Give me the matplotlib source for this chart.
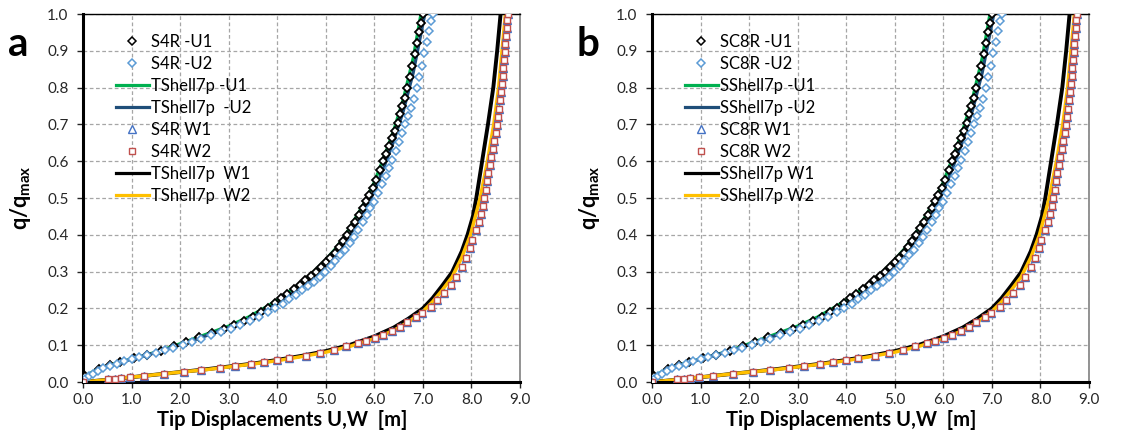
import matplotlib
matplotlib.use("Agg")
import matplotlib.pyplot as plt

plt.rcParams['font.family'] = ['Lato', 'DejaVu Sans']
plt.rcParams['mathtext.fontset'] = 'custom'
plt.rcParams['mathtext.rm'] = 'Lato'
plt.rcParams['mathtext.bf'] = 'Lato:bold'

# ---- data (x = tip displacement [m], q = q/qmax) ----
# S4R / SC8R -U1 (black diamonds)
u1_x = [0.00, 0.05, 0.32, 0.55, 0.77, 1.06, 1.32, 1.61, 1.87, 2.13, 2.39, 2.65, 2.90, 3.12,
        3.32, 3.50, 3.66, 3.81, 3.95, 4.08, 4.21, 4.34, 4.46, 4.58, 4.69, 4.80, 4.90, 5.00,
        5.09, 5.18, 5.27, 5.36, 5.44, 5.52, 5.60, 5.68, 5.76, 5.83, 5.90, 5.97, 6.04, 6.11,
        6.18, 6.24, 6.30, 6.36, 6.42, 6.48, 6.53, 6.58, 6.63, 6.68, 6.73, 6.78, 6.83, 6.88,
        6.93, 6.97, 7.00]
u1_q = [0.000, 0.015, 0.035, 0.045, 0.054, 0.065, 0.073, 0.084, 0.097, 0.110, 0.122, 0.133,
        0.145, 0.155, 0.166, 0.177, 0.189, 0.202, 0.215, 0.227, 0.239, 0.252, 0.264, 0.276,
        0.288, 0.300, 0.313, 0.326, 0.338, 0.351, 0.366, 0.383, 0.400, 0.418, 0.436, 0.455,
        0.474, 0.491, 0.508, 0.528, 0.550, 0.575, 0.600, 0.620, 0.641, 0.662, 0.683, 0.705,
        0.727, 0.749, 0.772, 0.800, 0.830, 0.860, 0.890, 0.920, 0.950, 0.975, 1.000]

# S4R / SC8R -U2 (light blue diamonds)
u2_x = [0.00, 0.05, 0.12, 0.20, 0.30, 0.42, 0.55, 0.70, 0.85, 1.00, 1.16, 1.32, 1.50, 1.68,
        1.86, 2.05, 2.24, 2.44, 2.64, 2.84, 3.04, 3.24, 3.44, 3.62, 3.80, 3.96, 4.11, 4.25,
        4.39, 4.52, 4.64, 4.76, 4.88, 4.99, 5.10, 5.20, 5.30, 5.40, 5.49, 5.58, 5.67, 5.76,
        5.84, 5.92, 6.00, 6.08, 6.16, 6.23, 6.30, 6.37, 6.44, 6.51, 6.58, 6.64, 6.70, 6.76,
        6.82, 6.88, 6.93, 6.98, 7.03, 7.08, 7.13, 7.17, 7.20]
u2_q = [0.000, 0.008, 0.016, 0.022, 0.029, 0.037, 0.043, 0.050, 0.056, 0.062, 0.068, 0.074,
        0.080, 0.086, 0.093, 0.101, 0.110, 0.118, 0.127, 0.136, 0.145, 0.155, 0.166, 0.177,
        0.189, 0.201, 0.213, 0.225, 0.237, 0.249, 0.261, 0.273, 0.286, 0.298, 0.314, 0.330,
        0.345, 0.360, 0.377, 0.395, 0.413, 0.435, 0.454, 0.472, 0.490, 0.514, 0.538, 0.560,
        0.582, 0.604, 0.628, 0.652, 0.677, 0.700, 0.722, 0.745, 0.770, 0.800, 0.830, 0.860,
        0.895, 0.925, 0.955, 0.980, 1.000]

# Shell7p -U1 (green line) and -U2 (dark blue line)
s_u1_x = [0.0, 0.1, 0.3, 0.6, 1.0, 1.5, 2.0, 2.5, 3.0, 3.4, 3.8, 4.1, 4.4, 4.7, 5.0, 5.2,
          5.4, 5.6, 5.8, 6.0, 6.2, 6.4, 6.6, 6.8, 6.96]
s_u1_q = [0.000, 0.020, 0.035, 0.048, 0.063, 0.081, 0.104, 0.128, 0.152, 0.176, 0.206, 0.232,
          0.260, 0.293, 0.332, 0.362, 0.398, 0.443, 0.488, 0.543, 0.612, 0.684, 0.770, 0.880, 1.000]
s_u2_x = [0.0, 0.1, 0.3, 0.6, 1.0, 1.5, 2.0, 2.5, 3.0, 3.4, 3.8, 4.1, 4.4, 4.7, 5.0, 5.2,
          5.4, 5.6, 5.8, 6.0, 6.2, 6.4, 6.6, 6.8, 7.04]
s_u2_q = [0.000, 0.018, 0.032, 0.046, 0.062, 0.080, 0.101, 0.124, 0.148, 0.170, 0.198, 0.222,
          0.250, 0.281, 0.318, 0.346, 0.380, 0.422, 0.466, 0.518, 0.585, 0.655, 0.738, 0.840, 1.000]

# S4R / SC8R W1 (triangles) and W2 (squares)
w_x = [0.00, 0.51, 0.65, 0.79, 0.97, 1.25, 1.67, 2.07, 2.44, 2.82, 3.14, 3.45, 3.73, 4.00,
       4.24, 4.59, 4.89, 5.17, 5.41, 5.66, 5.83, 6.01, 6.18, 6.36, 6.53, 6.67, 6.85, 6.99,
       7.16, 7.30, 7.43, 7.57, 7.68, 7.80, 7.88, 7.96, 8.02, 8.09, 8.15, 8.19, 8.23, 8.26,
       8.29, 8.32, 8.35, 8.38, 8.41, 8.44, 8.47, 8.50, 8.53, 8.55, 8.57, 8.59, 8.61, 8.63,
       8.64, 8.66, 8.67, 8.69, 8.70, 8.72, 8.73, 8.74, 8.75]
w_q = [0.000, 0.007, 0.009, 0.011, 0.014, 0.017, 0.023, 0.027, 0.032, 0.038, 0.043, 0.049,
       0.054, 0.059, 0.065, 0.072, 0.079, 0.088, 0.097, 0.105, 0.111, 0.120, 0.129, 0.138,
       0.150, 0.162, 0.176, 0.187, 0.204, 0.223, 0.241, 0.264, 0.286, 0.313, 0.338, 0.363,
       0.387, 0.413, 0.435, 0.457, 0.479, 0.501, 0.523, 0.545, 0.567, 0.589, 0.611, 0.633,
       0.655, 0.677, 0.699, 0.721, 0.743, 0.765, 0.787, 0.809, 0.831, 0.853, 0.875, 0.897,
       0.919, 0.941, 0.963, 0.985, 1.000]

# Shell7p W1 (black line) and W2 (yellow line)
s_w1_x = [0.0, 0.5, 1.0, 1.5, 2.0, 2.5, 3.0, 3.5, 4.0, 4.5, 5.0, 5.5, 6.0, 6.4, 6.7, 7.0,
          7.2, 7.4, 7.6, 7.8, 7.92, 8.03, 8.10, 8.22, 8.34, 8.45, 8.53, 8.60]
s_w1_q = [0.000, 0.006, 0.013, 0.020, 0.027, 0.034, 0.042, 0.050, 0.060, 0.071, 0.084, 0.101,
          0.124, 0.148, 0.172, 0.200, 0.228, 0.262, 0.298, 0.355, 0.400, 0.450, 0.500, 0.600,
          0.700, 0.800, 0.900, 1.000]
s_w2_x = [0.0, 0.5, 1.0, 1.5, 2.0, 2.5, 3.0, 3.5, 4.0, 4.5, 5.0, 5.5, 6.0, 6.4, 6.7, 7.0,
          7.2, 7.4, 7.6, 7.8, 7.98, 8.08, 8.18, 8.33, 8.46, 8.56, 8.63, 8.70]
s_w2_q = [0.000, 0.006, 0.013, 0.020, 0.027, 0.033, 0.041, 0.049, 0.058, 0.069, 0.081, 0.097,
          0.118, 0.140, 0.163, 0.192, 0.218, 0.250, 0.285, 0.338, 0.400, 0.450, 0.500, 0.600,
          0.700, 0.800, 0.900, 1.000]

panels = ['a', 'b']
labels_a = ['S4R -U1', 'S4R -U2', 'TShell7p -U1', 'TShell7p  -U2',
            'S4R W1', 'S4R W2', 'TShell7p  W1', 'TShell7p  W2']
labels_b = ['SC8R -U1', 'SC8R -U2', 'SShell7p -U1', 'SShell7p -U2',
            'SC8R W1', 'SC8R W2', 'SShell7p W1', 'SShell7p W2']

fig = plt.figure(figsize=(11.29, 4.45), dpi=100)
lefts = [83, 652]
letter_x = [18, 588]

for i, (letter, labels) in enumerate(zip(panels, [labels_a, labels_b])):
    ax = fig.add_axes([lefts[i] / 1129, 63 / 445, 437 / 1129, 368 / 445])

    ax.plot(s_u1_x, s_u1_q, color='#00b050', lw=2.3, zorder=2)
    ax.plot(s_u2_x, s_u2_q, color='#1f4e79', lw=2.3, zorder=2)
    ax.plot(s_w1_x, s_w1_q, color='black', lw=2.8, zorder=2)
    ax.plot(s_w2_x, s_w2_q, color='#ffc000', lw=2.5, zorder=2)

    ax.plot(u1_x, u1_q, ls='none', marker='D', ms=4.5, mfc='white', mec='black', mew=1.3, zorder=3)
    ax.plot(u2_x, u2_q, ls='none', marker='D', ms=4.5, mfc='white', mec='#5b9bd5', mew=1.1, zorder=3)
    ax.plot(w_x, w_q, ls='none', marker='^', ms=6, mfc='white', mec='#4472c4', mew=1.0, zorder=3)
    ax.plot(w_x, w_q, ls='none', marker='s', ms=4.3, mfc='white', mec='#c0504d', mew=1.0, zorder=4)

    # legend proxies in the chart's series order
    h = [
        plt.Line2D([], [], ls='none', marker='D', ms=4.2, mfc='white', mec='black', mew=1.1),
        plt.Line2D([], [], ls='none', marker='D', ms=4.2, mfc='white', mec='#5b9bd5', mew=1.1),
        plt.Line2D([], [], color='#00b050', lw=2.3),
        plt.Line2D([], [], color='#1f4e79', lw=2.3),
        plt.Line2D([], [], ls='none', marker='^', ms=5.5, mfc='white', mec='#4472c4', mew=1.0),
        plt.Line2D([], [], ls='none', marker='s', ms=4, mfc='white', mec='#c0504d', mew=1.0),
        plt.Line2D([], [], color='black', lw=2.3),
        plt.Line2D([], [], color='#ffc000', lw=2.3),
    ]
    ax.legend(h, labels, loc='upper left', bbox_to_anchor=(0.075, 0.945), frameon=False,
              fontsize=12, handlelength=2.0, handletextpad=0.1, labelspacing=0.36,
              borderaxespad=0, borderpad=0)

    ax.set_xlim(0, 9)
    ax.set_ylim(0, 1)
    ax.set_xticks([k * 1.0 for k in range(10)])
    ax.set_yticks([k / 10 for k in range(11)])
    ax.set_xticklabels(['%.1f' % (k * 1.0) for k in range(10)])
    ax.set_yticklabels(['%.1f' % (k / 10) for k in range(11)])
    ax.tick_params(labelsize=11, colors='#262626', direction='out', length=4, width=1)
    ax.tick_params(axis='x', pad=4)
    ax.tick_params(axis='y', pad=6.5)
    ax.grid(True, color='#a6a6a6', ls=(0, (3, 2)), lw=0.9)
    ax.set_axisbelow(True)

    ax.spines['left'].set_linewidth(2.2)
    ax.spines['bottom'].set_linewidth(2.2)
    ax.spines['top'].set_linewidth(1.0)
    ax.spines['right'].set_color('#808080')
    ax.spines['right'].set_linewidth(1.2)

    ax.set_xlabel('Tip Displacements U,W  [m]', fontsize=14.5, fontweight='bold')
    ax.xaxis.set_label_coords(0.455, -0.076)
    ax.set_ylabel(r'q/q$_{\mathbf{max}}$', fontsize=15.5, fontweight='bold')
    ax.yaxis.set_label_coords(-0.115, 0.5)

    fig.text(letter_x[i] / 1129, 1 - 45 / 445, letter, fontsize=29,
             fontweight='bold', ha='center', va='center')

fig.savefig('out.png', dpi=100)
